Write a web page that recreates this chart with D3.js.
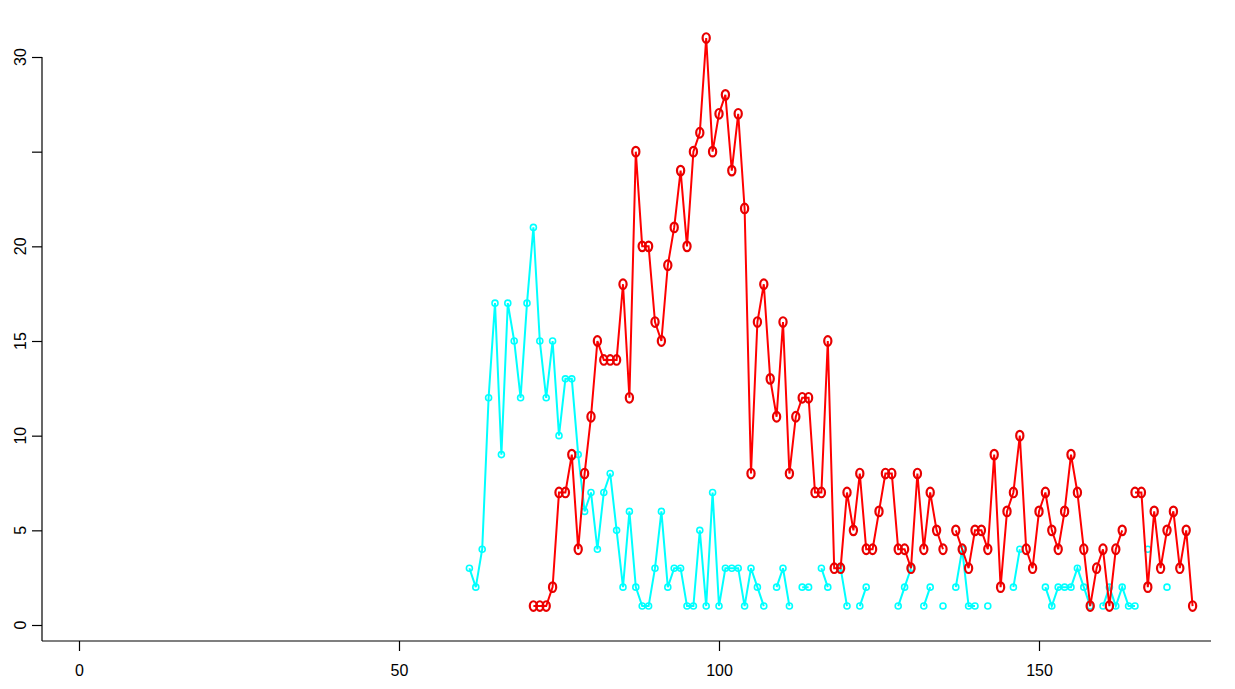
<!DOCTYPE html>
<html>
<head>
<meta charset="utf-8">
<script src="https://cdn.jsdelivr.net/npm/d3@7"></script>
<style>
  html, body { margin: 0; padding: 0; background: #ffffff; }
  svg { display: block; }
  text { font-family: "Liberation Sans", Arial, Helvetica, sans-serif; }
</style>
</head>
<body>
<svg id="chart" width="1235" height="689"></svg>
<script>
// ---- data ----
const cyanStart = 61;
const cyanValues = [
  3, 2, 4, 12, 17, 9, 17, 15, 12, 17,          // 61-70
  21, 15, 12, 15, 10, 13, 13, 9, 6, 7,         // 71-80
  4, 7, 8, 5, 2, 6, 2, 1, 1, 3,                // 81-90
  6, 2, 3, 3, 1, 1, 5, 1, 7, 1,                // 91-100
  3, 3, 3, 1, 3, 2, 1, null, 2, 3,             // 101-110
  1, null, 2, 2, null, 3, 2, null, 3, 1,       // 111-120
  null, 1, 2, null, null, null, null, 1, 2, 3, // 121-130
  null, 1, 2, null, 1, null, 2, 4, 1, 1,       // 131-140
  null, 1, null, null, null, 2, 4, null, null, null, // 141-150
  2, 1, 2, 2, 2, 3, 2, 1, null, 1,             // 151-160
  2, 1, 2, 1, 1, null, 4, null, null, 2        // 161-170
];
const redStart = 71;
const redValues = [
  1, 1, 1, 2, 7, 7, 9, 4, 8, 11,               // 71-80
  15, 14, 14, 14, 18, 12, 25, 20, 20, 16,      // 81-90
  15, 19, 21, 24, 20, 25, 26, 31, 25, 27,      // 91-100
  28, 24, 27, 22, 8, 16, 18, 13, 11, 16,       // 101-110
  8, 11, 12, 12, 7, 7, 15, 3, 3, 7,            // 111-120
  5, 8, 4, 4, 6, 8, 8, 4, 4, 3,                // 121-130
  8, 4, 7, 5, 4, null, 5, 4, 3, 5,             // 131-140
  5, 4, 9, 2, 6, 7, 10, 4, 3, 6,               // 141-150
  7, 5, 4, 6, 9, 7, 4, 1, 3, 4,                // 151-160
  1, 4, 5, null, 7, 7, 2, 6, 3, 5,             // 161-170
  6, 3, 5, 1                                   // 171-174
];
const xTicks = [0, 50, 100, 150];
const yTicks = [0, 5, 10, 15, 20, 25, 30];
const yTickLabels = ["0", "5", "10", "15", "20", "", "30"];

// ---- layout ----
const svg = d3.select("#chart");
const x = d3.scaleLinear().domain([0, 150]).range([79, 1039]);
const y = d3.scaleLinear().domain([0, 30]).range([625, 57]);
const axisY = 641, axisX = 42, rightEnd = 1211;

const toPts = (start, vals) => vals.map((v, i) => ({x: start + i, y: v}));
const cyanPts = toPts(cyanStart, cyanValues);
const redPts = toPts(redStart, redValues);

const line = d3.line()
  .defined(d => d.y !== null)
  .x(d => x(d.x)).y(d => y(d.y));

// axes
const gx = svg.append("g").attr("transform", `translate(0,${axisY})`)
  .call(d3.axisBottom(x).tickValues(xTicks).tickSize(10).tickPadding(14).tickFormat(d3.format("d")));
gx.select(".domain").remove();
gx.selectAll(".tick line").attr("stroke", "#000").attr("stroke-width", 1.2);
gx.selectAll(".tick text").attr("font-size", 16).attr("fill", "#000")
  .style("font-family", '"Liberation Sans", Arial, sans-serif');
svg.append("line").attr("x1", axisX).attr("x2", rightEnd)
  .attr("y1", axisY).attr("y2", axisY).attr("stroke", "#000").attr("stroke-width", 1.2);

const gy = svg.append("g").attr("transform", `translate(${axisX},0)`)
  .call(d3.axisLeft(y).tickValues(yTicks).tickSize(10).tickFormat(() => ""));
gy.select(".domain").remove();
gy.selectAll(".tick line").attr("stroke", "#000").attr("stroke-width", 1.2);
svg.append("line").attr("x1", axisX).attr("x2", axisX)
  .attr("y1", axisY).attr("y2", y(30)).attr("stroke", "#000").attr("stroke-width", 1.2);
svg.append("g").selectAll("text").data(yTicks.map((t, i) => ({t, lab: yTickLabels[i]})))
  .join("text")
  .attr("transform", d => `translate(26,${y(d.t)}) rotate(-90)`)
  .attr("text-anchor", "middle")
  .attr("font-size", 16)
  .attr("fill", "#000")
  .text(d => d.lab);

// cyan series
svg.append("path").datum(cyanPts).attr("d", line)
  .attr("fill", "none").attr("stroke", "#00ffff").attr("stroke-width", 2);
svg.append("g").selectAll("circle").data(cyanPts.filter(d => d.y !== null)).join("circle")
  .attr("cx", d => x(d.x)).attr("cy", d => y(d.y)).attr("r", 3)
  .attr("fill", "none").attr("stroke", "#00ffff").attr("stroke-width", 1.6);

// red series
svg.append("path").datum(redPts).attr("d", line)
  .attr("fill", "none").attr("stroke", "#ff0000").attr("stroke-width", 2);
svg.append("g").selectAll("ellipse").data(redPts.filter(d => d.y !== null)).join("ellipse")
  .attr("cx", d => x(d.x)).attr("cy", d => y(d.y)).attr("rx", 3.6).attr("ry", 4.8)
  .attr("fill", "none").attr("stroke", "#e80000").attr("stroke-width", 2.2);
</script>
</body>
</html>
